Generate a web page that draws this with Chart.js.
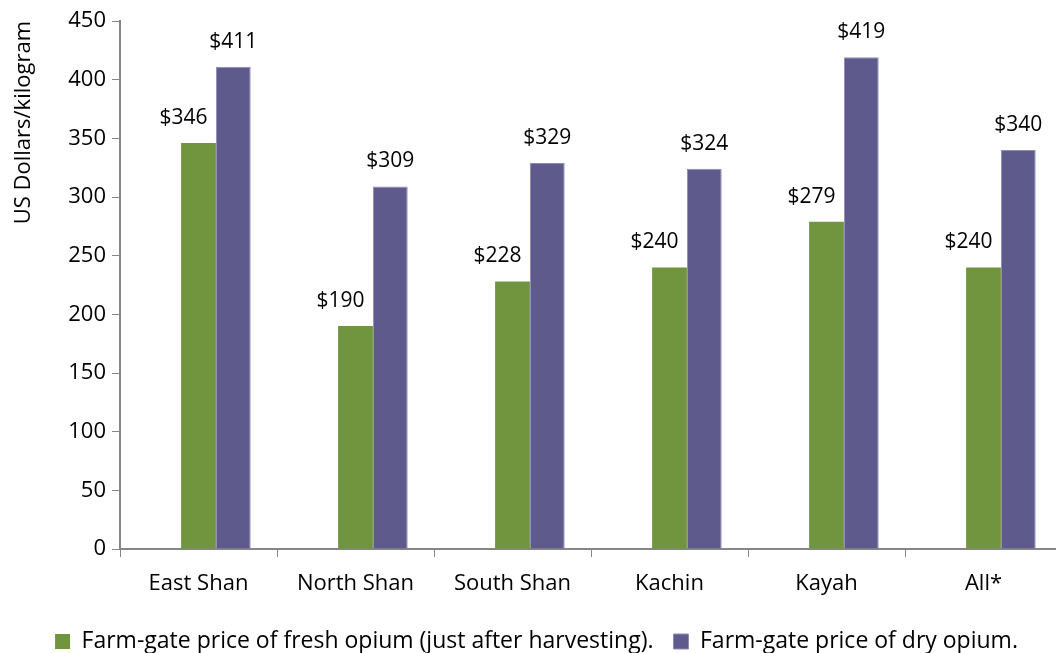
<!DOCTYPE html>
<html>
<head>
<meta charset="utf-8">
<script src="https://cdn.jsdelivr.net/npm/chart.js@4"></script>
<style>
  body { margin: 0; overflow: hidden; background: #fff; }
  #wrap { width: 1062px; height: 653px; }
</style>
</head>
<body>
<div id="wrap"><canvas id="graphPrices"></canvas></div>
<script>
// Chart data
var regions = ['East Shan', 'North Shan', 'South Shan', 'Kachin', 'Kayah', 'All*'];
var freshPrice = [346, 190, 228, 240, 279, 240];
var dryPrice = [411, 309, 329, 324, 419, 340];
var emptySlot = [null, null, null, null, null, null];

var freshColor = '#71943F';
var dryColor = '#5E5A8C';
var axisColor = '#868686';

Chart.defaults.font.family = "'Open Sans', sans-serif";
Chart.defaults.font.size = 22;
Chart.defaults.color = '#000';

/**
 * Draws "$value" above each bar
 */
var valueLabels = {
    id: 'valueLabels',
    afterDatasetsDraw: function(chart) {
        var ctx = chart.ctx;
        ctx.save();
        ctx.font = "21px 'Open Sans', sans-serif";
        ctx.fillStyle = '#000';
        ctx.textAlign = 'center';
        ctx.textBaseline = 'middle';
        chart.data.datasets.forEach(function(ds, i) {
            if (!ds.showLabels) return;
            chart.getDatasetMeta(i).data.forEach(function(bar, j) {
                ctx.fillText('$' + ds.data[j], bar.x + ds.labelShift, bar.y - 25);
            });
        });
        ctx.restore();
    }
};

var ctxPrices = document.getElementById('graphPrices').getContext('2d');
var chart = new Chart(ctxPrices, {
    type: 'bar',
    data: {
        labels: regions,
        datasets: [{
            label: '',
            data: emptySlot,
            backgroundColor: 'rgba(0,0,0,0)'
        }, {
            label: 'Farm-gate price of fresh opium (just after harvesting).',
            data: freshPrice,
            backgroundColor: freshColor,
            showLabels: true,
            labelShift: -15
        }, {
            label: 'Farm-gate price of dry opium.',
            data: dryPrice,
            backgroundColor: dryColor,
            borderColor: '#8F8BB8',
            borderWidth: 1,
            borderSkipped: 'bottom',
            showLabels: true,
            labelShift: 0
        }]
    },
    options: {
        responsive: true,
        maintainAspectRatio: false,
        animation: false,
        layout: { padding: { top: 21, left: 11, right: 0, bottom: -10 } },
        datasets: {
            bar: { barPercentage: 1, categoryPercentage: 0.665, grouped: true }
        },
        plugins: {
            tooltip: { enabled: false },
            legend: {
                position: 'bottom',
                labels: {
                    font: { size: 23 },
                    boxWidth: 15,
                    boxHeight: 15,
                    padding: 20,
                    filter: function(item) { return item.text !== ''; }
                }
            }
        },
        scales: {
            x: {
                afterFit: function(scale) { scale.height = 61; },
                grid: {
                    offset: true,
                    drawOnChartArea: false,
                    tickLength: 8,
                    color: axisColor
                },
                border: { color: axisColor, width: 2 },
                ticks: { padding: 14, maxRotation: 0 }
            },
            y: {
                min: 0,
                max: 450,
                afterFit: function(scale) { scale.width = 109; },
                ticks: { stepSize: 50, padding: 6 },
                grid: {
                    drawOnChartArea: false,
                    tickLength: 8,
                    color: axisColor
                },
                border: { color: axisColor, width: 2 },
                title: {
                    display: true,
                    text: 'US Dollars/kilogram',
                    align: 'end',
                    padding: { top: 0, bottom: 4 }
                }
            }
        }
    },
    plugins: [valueLabels]
});
</script>
</body>
</html>
